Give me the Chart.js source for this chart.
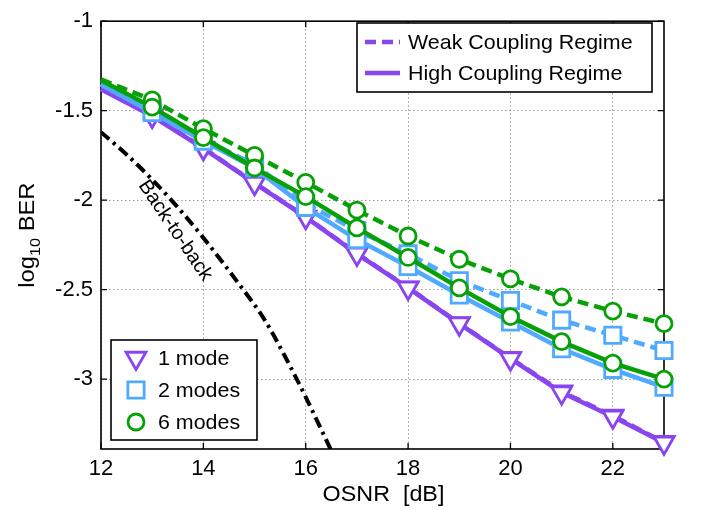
<!DOCTYPE html>
<html>
<head>
<meta charset="utf-8">
<script src="https://cdn.jsdelivr.net/npm/chart.js@4.4.1/dist/chart.umd.min.js"></script>
<style>
  html, body { margin: 0; padding: 0; background: #ffffff; }
  #wrap { width: 701px; height: 510px; }
</style>
</head>
<body>
<div id="wrap"><canvas id="c" width="701" height="510"></canvas></div>
<script>
// ---------- data ----------
const osnr = [12, 13, 14, 15, 16, 17, 18, 19, 20, 21, 22, 23];

const mode1High = [-1.38, -1.53, -1.71, -1.905, -2.095, -2.30, -2.49, -2.69, -2.885, -3.075, -3.21, -3.355];
const mode1Weak = [-1.378, -1.528, -1.708, -1.903, -2.093, -2.298, -2.488, -2.688, -2.883, -3.07, -3.205, -3.352];

const mode2High = [-1.355, -1.51, -1.67, -1.82, -2.04, -2.22, -2.37, -2.53, -2.68, -2.83, -2.945, -3.045];
const mode2Weak = [-1.35, -1.50, -1.66, -1.80, -2.02, -2.17, -2.30, -2.45, -2.56, -2.67, -2.755, -2.84];

const mode6High = [-1.33, -1.48, -1.65, -1.82, -1.98, -2.155, -2.32, -2.49, -2.65, -2.79, -2.91, -3.00];
const mode6Weak = [-1.325, -1.44, -1.60, -1.75, -1.90, -2.055, -2.20, -2.33, -2.44, -2.54, -2.62, -2.69];

const b2bOsnr = [12, 12.5, 13, 13.5, 14, 14.7, 15.2, 15.7, 16.0, 16.5];
const b2bBer  = [-1.62, -1.745, -1.885, -2.04, -2.21, -2.47, -2.67, -2.93, -3.10, -3.40];

const xTicks = [12, 14, 16, 18, 20, 22];
const yTicks = [-3, -2.5, -2, -1.5, -1];

const lineLegend = ['Weak Coupling Regime', 'High Coupling Regime'];
const markerLegend = ['1 mode', '2 modes', '6 modes'];

// ---------- style ----------
const PURPLE = '#8a46ee';
const BLUE = '#50aaff';
const GREEN = '#07a007';
const FONT = '"Liberation Sans", Arial, Helvetica, sans-serif';

function pts(xs, ys) { return xs.map((x, i) => ({ x: x, y: ys[i] })); }

function series(label, ys, color, style, radius, dashed, rot, order) {
  return {
    label: label,
    data: pts(osnr, ys),
    borderColor: color,
    backgroundColor: '#ffffff',
    borderWidth: 4.5,
    borderDash: dashed ? [11, 6] : [],
    pointStyle: style,
    pointRotation: rot,
    pointRadius: (ctx) => (ctx.raw && ctx.raw.x === 12 ? 0 : radius),
    pointBorderWidth: 2.8,
    pointBorderColor: color,
    pointBackgroundColor: '#ffffff',
    tension: 0,
    clip: false,
    order: order
  };
}

const datasets = [
  {
    label: 'Back-to-back',
    data: pts(b2bOsnr, b2bBer),
    borderColor: '#000000',
    borderWidth: 4,
    borderDash: [11, 5, 3, 5],
    pointRadius: 0,
    cubicInterpolationMode: 'monotone',
    order: 10
  },
  series('1 mode weak', mode1Weak, PURPLE, 'triangle', 11.5, true, 180, 6),
  series('1 mode high', mode1High, PURPLE, 'triangle', 11.5, false, 180, 5),
  series('2 modes weak', mode2Weak, BLUE, 'rect', 11.5, true, 0, 4),
  series('2 modes high', mode2High, BLUE, 'rect', 11.5, false, 0, 3),
  series('6 modes weak', mode6Weak, GREEN, 'circle', 8, true, 0, 2),
  series('6 modes high', mode6High, GREEN, 'circle', 8, false, 0, 1)
];

function stretchText(ctx, text, x, y, align, sx) {
  ctx.save();
  ctx.translate(x, y);
  ctx.scale(sx, 1);
  ctx.textAlign = align;
  ctx.fillText(text, 0, 0);
  ctx.restore();
}

const framePlugin = {
  id: 'frame',
  beforeDatasetsDraw(chart) {
    const ctx = chart.ctx;
    const a = chart.chartArea;
    const xs = chart.scales.x, ys = chart.scales.y;
    ctx.save();
    ctx.strokeStyle = '#000000';
    ctx.lineWidth = 1.6;
    ctx.setLineDash([]);
    ctx.strokeRect(a.left, a.top, a.right - a.left, a.bottom - a.top);
    ctx.lineWidth = 1.3;
    const tl = 6;
    xTicks.forEach(v => {
      const px = xs.getPixelForValue(v);
      ctx.beginPath();
      ctx.moveTo(px, a.bottom); ctx.lineTo(px, a.bottom - tl);
      ctx.moveTo(px, a.top); ctx.lineTo(px, a.top + tl);
      ctx.stroke();
    });
    yTicks.forEach(v => {
      const py = ys.getPixelForValue(v);
      ctx.beginPath();
      ctx.moveTo(a.left, py); ctx.lineTo(a.left + tl, py);
      ctx.moveTo(a.right, py); ctx.lineTo(a.right - tl, py);
      ctx.stroke();
    });
    ctx.restore();
  },
  afterDatasetsDraw(chart) {
    const ctx = chart.ctx;
    const a = chart.chartArea;
    const xs = chart.scales.x, ys = chart.scales.y;
    ctx.save();
    ctx.fillStyle = '#000000';
    ctx.textBaseline = 'alphabetic';

    // x axis title
    ctx.font = '22px ' + FONT;
    stretchText(ctx, 'OSNR  [dB]', (a.left + a.right) / 2 + 1, 501, 'center', 1.06);

    // y axis title with subscript
    ctx.save();
    ctx.translate(34, (a.top + a.bottom) / 2);
    ctx.rotate(-Math.PI / 2);
    ctx.scale(1.08, 1);
    const big = '22px ' + FONT, small = '15px ' + FONT;
    ctx.font = big; const w1 = ctx.measureText('log').width;
    ctx.font = small; const w2 = ctx.measureText('10').width;
    ctx.font = big; const w3 = ctx.measureText(' BER').width;
    let sx = -(w1 + w2 + w3) / 2;
    ctx.textAlign = 'left';
    ctx.font = big; ctx.fillText('log', sx, 0); sx += w1;
    ctx.font = small; ctx.fillText('10', sx, 6); sx += w2;
    ctx.font = big; ctx.fillText(' BER', sx, 0);
    ctx.restore();

    // Back-to-back label
    ctx.save();
    ctx.translate(xs.getPixelForValue(13.45), ys.getPixelForValue(-2.17));
    ctx.rotate(56 * Math.PI / 180);
    ctx.font = '20px ' + FONT;
    ctx.textAlign = 'center';
    ctx.textBaseline = 'middle';
    ctx.fillText('Back-to-back', 0, 0);
    ctx.restore();

    // top-right legend (line styles)
    ctx.fillStyle = '#ffffff';
    ctx.fillRect(357, 23, 295, 69);
    ctx.strokeStyle = '#000000';
    ctx.lineWidth = 1.6;
    ctx.strokeRect(357, 23, 295, 69);
    const rows1 = [42, 73];
    ctx.lineWidth = 4.5;
    ctx.strokeStyle = PURPLE;
    [[11, 6], []].forEach((d, i) => {
      ctx.setLineDash(d);
      ctx.beginPath();
      ctx.moveTo(365, rows1[i]); ctx.lineTo(400, rows1[i]);
      ctx.stroke();
    });
    ctx.setLineDash([]);
    ctx.fillStyle = '#000000';
    ctx.font = '21px ' + FONT;
    ctx.textBaseline = 'middle';
    lineLegend.forEach((t, i) => stretchText(ctx, t, 408, rows1[i] + 1, 'left', 1.02));

    // bottom-left legend (markers)
    ctx.fillStyle = '#ffffff';
    ctx.fillRect(111, 340, 146, 100);
    ctx.strokeStyle = '#000000';
    ctx.lineWidth = 1.6;
    ctx.strokeRect(111, 340, 146, 100);
    const rows2 = [358, 390, 422];
    const mk = [
      { style: 'triangle', r: 11.5, rot: 180, c: PURPLE },
      { style: 'rect', r: 11.5, rot: 0, c: BLUE },
      { style: 'circle', r: 8, rot: 0, c: GREEN }
    ];
    mk.forEach((m, i) => {
      ctx.strokeStyle = m.c;
      ctx.fillStyle = '#ffffff';
      ctx.lineWidth = 2.8;
      Chart.helpers.drawPoint(ctx, { pointStyle: m.style, radius: m.r, rotation: m.rot, borderWidth: 2.8 }, 136, rows2[i]);
    });
    ctx.fillStyle = '#000000';
    ctx.font = '21px ' + FONT;
    markerLegend.forEach((t, i) => stretchText(ctx, t, 158, rows2[i] + 1, 'left', 1.02));
    ctx.restore();
  }
};

new Chart(document.getElementById('c'), {
  type: 'line',
  data: { datasets: datasets },
  plugins: [framePlugin],
  options: {
    responsive: false,
    animation: false,
    devicePixelRatio: 1,
    layout: { padding: { left: 0, right: 37, top: 12, bottom: 0 } },
    plugins: { legend: { display: false }, tooltip: { enabled: false } },
    scales: {
      x: {
        type: 'linear',
        min: 12, max: 23,
        afterBuildTicks: (s) => { s.ticks = xTicks.map(v => ({ value: v })); },
        afterFit: (s) => { s.height = 61; },
        ticks: {
          color: '#000000',
          font: { family: FONT, size: 22 },
          padding: 7,
          maxRotation: 0,
          autoSkip: false,
          callback: (v) => String(v)
        },
        grid: { color: '#9a9a9a', lineWidth: 1, drawTicks: false },
        border: { display: false, dash: [1.5, 2.5] }
      },
      y: {
        type: 'linear',
        min: -3.39, max: -1,
        afterBuildTicks: (s) => { s.ticks = yTicks.map(v => ({ value: v })); },
        afterFit: (s) => { s.width = 101; },
        ticks: {
          color: '#000000',
          font: { family: FONT, size: 22 },
          padding: 8,
          autoSkip: false,
          callback: (v) => String(v)
        },
        grid: { color: '#9a9a9a', lineWidth: 1, drawTicks: false },
        border: { display: false, dash: [1.5, 2.5] }
      }
    }
  }
});
</script>
</body>
</html>
